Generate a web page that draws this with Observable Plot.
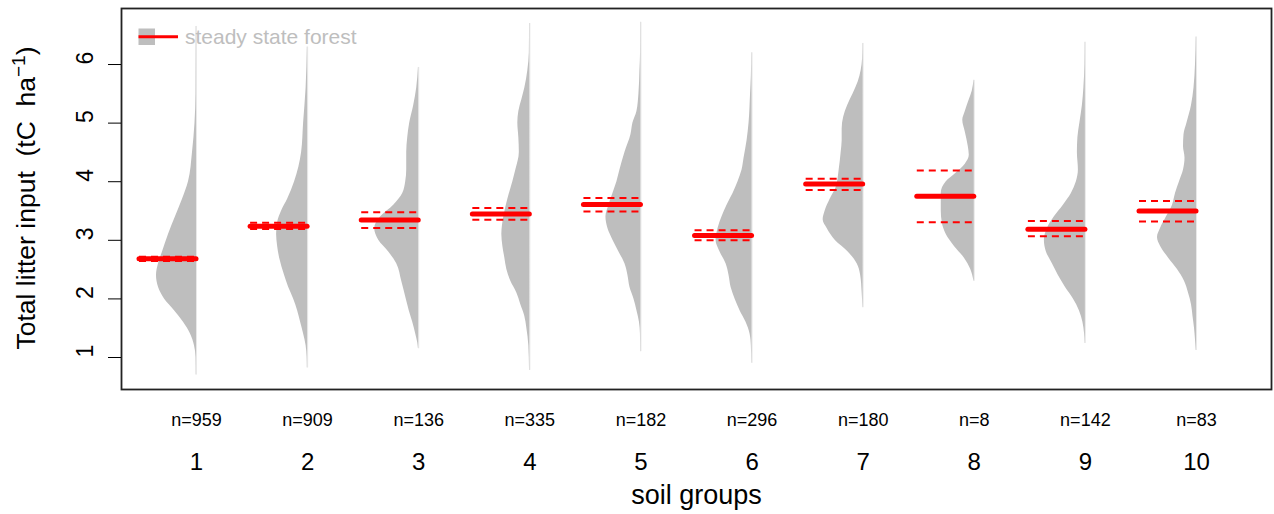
<!DOCTYPE html>
<html><head><meta charset="utf-8">
<script src="https://cdn.jsdelivr.net/npm/d3@7"></script>
<script src="https://cdn.jsdelivr.net/npm/@observablehq/plot@0.6"></script>
<style>
body{margin:0;background:#fff}
svg{font-family:"Liberation Sans",Arial,sans-serif}
</style>
</head><body><div id="chart"></div>
<script>
// ---- data ----
const groups = [1, 2, 3, 4, 5, 6, 7, 8, 9, 10];
const nObs = [959, 909, 136, 335, 182, 296, 180, 8, 142, 83];
const means = [2.685, 3.24, 3.345, 3.45, 3.61, 3.08, 3.96, 3.75, 3.19, 3.50];
const ciLow = [2.645, 3.195, 3.21, 3.35, 3.49, 3.00, 3.86, 3.31, 3.07, 3.32];
const ciHigh = [2.72, 3.30, 3.48, 3.55, 3.72, 3.17, 4.05, 4.19, 3.33, 3.67];
const yTicks = [1, 2, 3, 4, 5, 6];
const legendLabel = "steady state forest";

// half-violin density profiles: [value, relative density]
const density1 = [[6.65,0.3],[5.5,0.5],[5.0,1.5],[4.5,4],[4.0,8],[3.7,14],[3.4,21],[3.1,28],[2.8,34],[2.6,38],[2.4,40],[2.2,38],[2.0,32],[1.8,22],[1.6,13],[1.4,6],[1.2,2],[1.0,0.5],[0.7,0.3]];
const density2 = [[6.3,0.3],[5.6,1.5],[5.0,4],[4.5,6],[4.0,13],[3.7,20],[3.5,26],[3.3,30],[3.1,31],[2.9,30],[2.7,28],[2.4,23],[2.2,19],[2.0,14],[1.8,10],[1.6,7],[1.4,4],[1.2,1.5],[1.0,0.5],[0.82,0.3]];
const density3 = [[5.95,0.3],[5.6,2],[5.3,5],[5.0,9],[4.75,11],[4.5,12],[4.2,12],[4.0,13],[3.8,16],[3.6,25],[3.4,38],[3.2,44],[3.0,40],[2.8,30],[2.6,22],[2.3,17],[2.0,12.5],[1.8,9.5],[1.6,6],[1.4,3],[1.25,1],[1.15,0.3]];
const density4 = [[6.7,0.3],[6.2,0.5],[5.9,2],[5.6,5],[5.4,8],[5.2,11],[5.0,12],[4.75,11],[4.5,10.5],[4.2,14],[4.0,17],[3.7,22],[3.4,26],[3.1,28],[2.9,27],[2.7,25],[2.5,23],[2.3,19],[2.1,13],[1.9,9],[1.7,5],[1.5,3],[1.2,1],[0.78,0.3]];
const density5 = [[6.72,0.3],[6.2,0.4],[5.9,1],[5.5,2],[5.2,4],[5.0,8],[4.8,10],[4.5,16],[4.2,21],[4.0,24],[3.8,28],[3.6,32],[3.4,35],[3.2,33],[3.0,28],[2.8,22],[2.6,16],[2.4,13],[2.2,11],[2.0,7],[1.8,4],[1.6,1.5],[1.4,0.5],[1.1,0.3]];
const density6 = [[6.2,0.3],[5.8,0.7],[5.5,1.5],[5.0,3],[4.7,5],[4.4,8],[4.2,10],[4.0,14],[3.8,19],[3.6,25],[3.4,30],[3.2,34],[3.0,36],[2.8,32],[2.6,26],[2.4,23],[2.2,21],[2.0,17],[1.8,12],[1.6,6],[1.4,2],[1.2,0.7],[0.9,0.3]];
const density7 = [[6.36,0.3],[6.1,0.6],[5.9,2],[5.7,5],[5.5,10],[5.3,15.5],[5.1,19.5],[4.9,21],[4.7,21],[4.5,22],[4.2,24],[3.9,27],[3.7,33],[3.5,38],[3.35,40],[3.2,36],[3.0,28],[2.8,15],[2.6,6],[2.4,2.5],[2.1,1],[1.85,0.3]];
const density8 = [[5.73,0.3],[5.55,2],[5.4,5],[5.2,9],[5.05,11.5],[4.85,9],[4.6,6],[4.45,5],[4.3,9],[4.15,18],[4.0,28],[3.8,33],[3.5,33],[3.3,32],[3.1,28],[2.9,20],[2.7,10],[2.5,3.5],[2.3,0.3]];
const density9 = [[6.38,0.3],[6.0,0.5],[5.6,1.5],[5.3,3],[5.0,5.5],[4.75,7.5],[4.5,8],[4.2,7],[4.0,9],[3.8,14],[3.6,22],[3.4,31],[3.2,38],[3.0,41],[2.8,39],[2.6,33],[2.4,27],[2.2,20],[2.0,12],[1.8,6],[1.6,2.5],[1.4,0.8],[1.24,0.3]];
const density10 = [[6.47,0.3],[6.0,1],[5.6,2.5],[5.3,5],[5.0,9.5],[4.8,12.5],[4.6,13],[4.4,11.5],[4.2,13],[4.0,17],[3.8,21],[3.6,24],[3.4,30],[3.2,36],[3.05,39],[2.9,36],[2.7,28],[2.5,19],[2.3,12],[2.1,8],[1.9,5],[1.7,3.5],[1.5,2],[1.3,1],[1.12,0.3]];

const densities = [density1, density2, density3, density4, density5, density6, density7, density8, density9, density10];

// ---- build tables ----
const K = 1 / 111.1;        // group-units per density unit
const SEG = 0.513;          // length of mean / CI segments (group units)
const violinRows = [];
densities.forEach((prof, i) => prof.forEach(([v, w]) => violinRows.push({g: groups[i], v, w})));
const summary = groups.map((g, i) => ({g, n: nObs[i], mean: means[i], lo: ciLow[i], hi: ciHigh[i]}));
const ranges = densities.map((p, i) => ({g: groups[i], y1: d3.min(p, d => d[0]), y2: d3.max(p, d => d[0])}));

const font = "'Liberation Sans', Arial, sans-serif";
const plot = Plot.plot({
  width: 1274, height: 514,
  marginTop: 8, marginRight: 3, marginBottom: 125, marginLeft: 121,
  x: {domain: [0.325, 10.675], axis: null},
  y: {domain: [0.454, 6.956], axis: null},
  style: {fontFamily: font, background: "white", color: "black"},
  marks: [
    Plot.ruleX(ranges, {x: "g", y1: "y1", y2: "y2", stroke: "#bebebe", strokeOpacity: 0.35, strokeWidth: 1}),
    Plot.areaX(violinRows, {z: "g", y: "v", x1: d => d.g - d.w * K, x2: "g", fill: "#bebebe", curve: "monotone-y"}),
    Plot.ruleY(summary, {y: "lo", x1: d => d.g - SEG, x2: "g", stroke: "#ff0000", strokeWidth: 2, strokeDasharray: "7,5"}),
    Plot.ruleY(summary, {y: "hi", x1: d => d.g - SEG, x2: "g", stroke: "#ff0000", strokeWidth: 2, strokeDasharray: "7,5"}),
    Plot.ruleY(summary, {y: "mean", x1: d => d.g - SEG, x2: "g", stroke: "#ff0000", strokeWidth: 5, strokeLinecap: "round"}),
    Plot.frame({stroke: "#222", strokeWidth: 1.8}),
    Plot.axisY({ticks: yTicks, tickSize: 13, tickFormat: () => "", label: null}),
    Plot.text(yTicks, {y: d => d, text: d => String(d), frameAnchor: "left", dx: -36, rotate: -90, fontSize: 23, fill: "black"}),
    Plot.text(summary, {x: "g", text: d => "n=" + d.n, frameAnchor: "bottom", dy: 36, fontSize: 18, fill: "black"}),
    Plot.text(summary, {x: "g", text: d => String(d.g), frameAnchor: "bottom", dy: 80, fontSize: 24, fill: "black"}),
    Plot.text(["soil groups"], {text: d => d, frameAnchor: "bottom", dy: 114, fontSize: 27, fill: "black"})
  ]
});
document.getElementById("chart").appendChild(plot);

// y-axis title with superscript
const svg = d3.select(plot);
const yt = svg.append("text")
  .attr("transform", "translate(35,198) rotate(-90)")
  .attr("text-anchor", "middle")
  .attr("font-size", 26.5)
  .attr("fill", "black")
  .style("white-space", "pre")
  .attr("font-family", font);
yt.append("tspan").text("Total litter input  (tC  ha");
yt.append("tspan").attr("font-size", 19).attr("dy", -10).text("\u22121");
yt.append("tspan").attr("dy", 10).text(")");

// legend
const lg = svg.append("g");
lg.append("rect").attr("x", 138.5).attr("y", 28.5).attr("width", 16.5).attr("height", 16.5).attr("fill", "#bebebe");
lg.append("line").attr("x1", 138.5).attr("x2", 178).attr("y1", 36.7).attr("y2", 36.7).attr("stroke", "#ff0000").attr("stroke-width", 3);
lg.append("text").attr("x", 185).attr("y", 44).attr("text-anchor", "start").attr("font-size", 21).attr("fill", "#bebebe").attr("font-family", font).text(legendLabel);
</script>
</body></html>
